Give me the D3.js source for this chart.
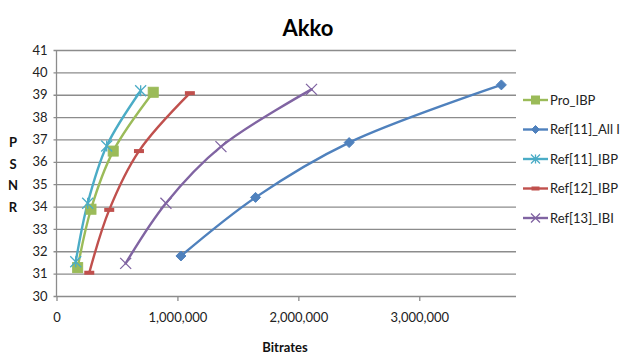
<!DOCTYPE html>
<html>
<head>
<meta charset="utf-8">
<script src="https://cdn.jsdelivr.net/npm/d3@7"></script>
<style>
  html, body { margin: 0; padding: 0; background: #fff; }
  svg { display: block; font-family: Lato, "Open Sans", sans-serif; }
</style>
</head>
<body>
<svg id="chart" width="620" height="359"></svg>
<script>
// Rate–distortion curves for the "Akko" sequence
const seriesNames = ["Pro_IBP", "Ref[11]_All I", "Ref[11]_IBP", "Ref[12]_IBP", "Ref[13]_IBI"];
const seriesColors = ["#9BBB59", "#4F81BD", "#4BACC6", "#C0504D", "#8064A2"];
const seriesMarkers = ["square", "diamond", "star", "dash", "cross"];

const proIBP_bitrate   = [175000, 285000, 469000, 800000];
const proIBP_psnr      = [31.27, 33.88, 36.48, 39.11];
const ref11All_bitrate = [1029000, 1646000, 2420000, 3679000];
const ref11All_psnr    = [31.79, 34.41, 36.86, 39.44];
const ref11IBP_bitrate = [159000, 258000, 415000, 696000];
const ref11IBP_psnr    = [31.53, 34.15, 36.71, 39.18];
const ref12IBP_bitrate = [271000, 436000, 682000, 1103000];
const ref12IBP_psnr    = [31.04, 33.85, 36.48, 39.07];
const ref13IBI_bitrate = [572000, 905000, 1360000, 2109000];
const ref13IBI_psnr    = [31.46, 34.15, 36.68, 39.24];

const xTicks = [0, 1000000, 2000000, 3000000];
const yTicks = [30, 31, 32, 33, 34, 35, 36, 37, 38, 39, 40, 41];

const bitrates = [proIBP_bitrate, ref11All_bitrate, ref11IBP_bitrate, ref12IBP_bitrate, ref13IBI_bitrate];
const psnrs    = [proIBP_psnr, ref11All_psnr, ref11IBP_psnr, ref12IBP_psnr, ref13IBI_psnr];
const series = seriesNames.map((name, i) => ({
  name, color: seriesColors[i], marker: seriesMarkers[i],
  points: bitrates[i].map((b, j) => ({ x: b, y: psnrs[i][j] }))
}));

const svg = d3.select("#chart");
const plot = { left: 56.5, right: 516, top: 50, bottom: 296 };

const x = d3.scaleLinear().domain([0, 3800000]).range([plot.left, plot.right]);
const y = d3.scaleLinear().domain([30, 41]).range([plot.bottom, plot.top]);

// Title
svg.append("text")
  .attr("x", 308).attr("y", 36)
  .attr("text-anchor", "middle")
  .attr("font-size", 22).attr("font-weight", "bold")
  .attr("fill", "#000")
  .text("Akko");

// Horizontal gridlines with the y axis labels
const yAxis = d3.axisLeft(y).tickValues(yTicks).tickSize(-(plot.right - plot.left)).tickPadding(9).tickFormat(d3.format("d"));
const gy = svg.append("g").attr("transform", `translate(${plot.left},0)`).call(yAxis);
gy.select(".domain").remove();
gy.selectAll(".tick line").attr("stroke", "#8c8c8c").attr("stroke-width", 1.3).attr("x1", -3);
gy.selectAll(".tick text").attr("font-size", 13).attr("fill", "#222").attr("font-family", "Lato, sans-serif");

// Value axis line
svg.append("line")
  .attr("x1", plot.left).attr("x2", plot.left)
  .attr("y1", plot.top).attr("y2", plot.bottom)
  .attr("stroke", "#8c8c8c").attr("stroke-width", 1.3);

// Bitrate axis
const xAxis = d3.axisBottom(x).tickValues(xTicks).tickSize(5).tickPadding(12).tickFormat(d3.format(","));
const gx = svg.append("g").attr("transform", `translate(0,${plot.bottom})`).call(xAxis);
gx.select(".domain").remove();
gx.selectAll(".tick line").attr("stroke", "#8c8c8c").attr("stroke-width", 1.3);
gx.selectAll(".tick text").attr("font-size", 13).attr("fill", "#222").attr("font-family", "Lato, sans-serif");

// Axis titles
svg.append("text")
  .attr("x", 285).attr("y", 352)
  .attr("text-anchor", "middle")
  .attr("font-size", 13).attr("font-weight", "bold").attr("fill", "#111")
  .text("Bitrates");

const ylab = svg.append("text")
  .attr("text-anchor", "middle")
  .attr("font-size", 13).attr("font-weight", "bold").attr("fill", "#111");
["P", "S", "N", "R"].forEach((ch, i) => {
  ylab.append("tspan").attr("x", 13).attr("y", 147 + i * 21.5).text(ch);
});

// Marker drawing
function drawMarker(g, type, color, size) {
  const s = size / 2;
  if (type === "square") {
    g.append("rect").attr("x", -s).attr("y", -s).attr("width", size).attr("height", size)
      .attr("fill", color).attr("stroke", color);
  } else if (type === "diamond") {
    g.append("path").attr("d", `M0,${-s} L${s},0 L0,${s} L${-s},0 Z`)
      .attr("fill", color).attr("stroke", color);
  } else if (type === "star") {
    g.append("path").attr("d", `M${-s},${-s} L${s},${s} M${-s},${s} L${s},${-s} M0,${-s} L0,${s}`)
      .attr("stroke", color).attr("stroke-width", 1.3).attr("fill", "none");
  } else if (type === "dash") {
    g.append("rect").attr("x", -s).attr("y", -2).attr("width", size).attr("height", 4)
      .attr("fill", color);
  } else if (type === "cross") {
    g.append("path").attr("d", `M${-s},${-s} L${s},${s} M${-s},${s} L${s},${-s}`)
      .attr("stroke", color).attr("stroke-width", 1.3).attr("fill", "none");
  }
}
const markerSize = { square: 10, diamond: 10, star: 11, dash: 10, cross: 11 };

// Smoothed series lines
const line = d3.line().x(d => x(d.x)).y(d => y(d.y)).curve(d3.curveCatmullRom.alpha(0.5));
const gs = svg.append("g");
series.forEach(s => {
  gs.append("path").datum(s.points)
    .attr("d", line)
    .attr("fill", "none")
    .attr("stroke", s.color)
    .attr("stroke-width", 2.4)
    .attr("stroke-linecap", "round");
});
series.forEach(s => {
  s.points.forEach(p => {
    const g = gs.append("g").attr("transform", `translate(${x(p.x)},${y(p.y)})`);
    drawMarker(g, s.marker, s.color, markerSize[s.marker]);
  });
});

// Legend
const legend = svg.append("g");
series.forEach((s, i) => {
  const ly = 100 + i * 29.5;
  const g = legend.append("g").attr("transform", `translate(523,${ly})`);
  g.append("line").attr("x1", 0).attr("x2", 25).attr("y1", 0).attr("y2", 0)
    .attr("stroke", s.color).attr("stroke-width", 2.4);
  const m = g.append("g").attr("transform", "translate(12.5,0)");
  drawMarker(m, s.marker, s.color, markerSize[s.marker] - 2);
  g.append("text").attr("x", 27).attr("y", 0).attr("dy", "0.35em")
    .attr("font-size", 13).attr("fill", "#222")
    .text(s.name);
});
</script>
</body>
</html>
